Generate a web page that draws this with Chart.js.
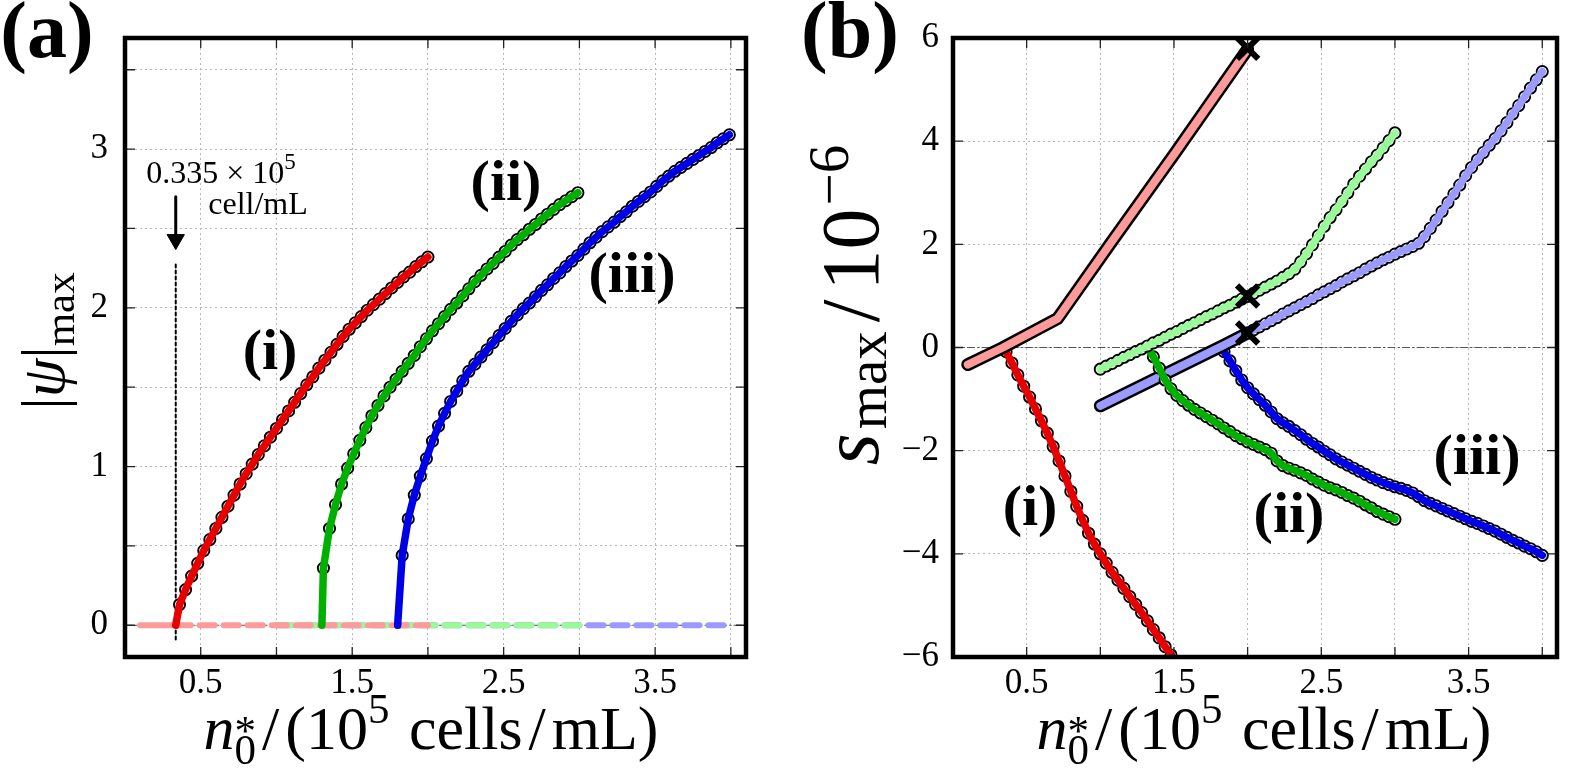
<!DOCTYPE html>
<html>
<head>
<meta charset="utf-8">
<script src="https://cdn.jsdelivr.net/npm/chart.js@4.4.1/dist/chart.umd.min.js"></script>
<style>
  body { margin: 0; background: #fff; width: 1578px; height: 770px; overflow: hidden; position: relative; }
  canvas { position: absolute; top: 0; }
  #chartA { left: 0; }
  #chartB { left: 780px; }
</style>
</head>
<body>
<canvas id="chartA" width="780" height="770"></canvas>
<canvas id="chartB" width="798" height="770"></canvas>
<script>
// ---------- panel (a): |psi|max vs n0* ----------
const aRedX = [0.335, 0.36, 0.40, 0.44, 0.48, 0.52, 0.56, 0.60, 0.64, 0.68, 0.72, 0.76, 0.80, 0.84, 0.88, 0.92, 0.96, 1.00, 1.04, 1.08, 1.12, 1.16, 1.20, 1.24, 1.28, 1.32, 1.36, 1.40, 1.44, 1.48, 1.52, 1.56, 1.60, 1.64, 1.68, 1.72, 1.76, 1.80, 1.84, 1.88, 1.92, 1.96, 2.00];
const aRedY = [0, 0.13, 0.225, 0.31, 0.39, 0.47, 0.54, 0.61, 0.68, 0.75, 0.82, 0.89, 0.955, 1.015, 1.075, 1.13, 1.185, 1.24, 1.295, 1.35, 1.405, 1.46, 1.515, 1.565, 1.62, 1.67, 1.72, 1.77, 1.82, 1.865, 1.905, 1.945, 1.985, 2.02, 2.055, 2.09, 2.125, 2.16, 2.195, 2.225, 2.26, 2.29, 2.32];

const aGreenX = [1.30, 1.31, 1.35, 1.39, 1.43, 1.47, 1.51, 1.55, 1.59, 1.63, 1.67, 1.71, 1.75, 1.79, 1.83, 1.87, 1.91, 1.95, 1.99, 2.03, 2.07, 2.11, 2.15, 2.19, 2.23, 2.27, 2.31, 2.35, 2.39, 2.43, 2.47, 2.51, 2.55, 2.59, 2.63, 2.67, 2.71, 2.75, 2.79, 2.83, 2.87, 2.91, 2.95, 2.99];
const aGreenY = [0, 0.36, 0.61, 0.76, 0.89, 0.99, 1.08, 1.165, 1.245, 1.32, 1.385, 1.445, 1.50, 1.55, 1.60, 1.65, 1.70, 1.755, 1.805, 1.855, 1.90, 1.945, 1.99, 2.03, 2.075, 2.12, 2.165, 2.205, 2.245, 2.28, 2.32, 2.355, 2.395, 2.43, 2.46, 2.495, 2.525, 2.56, 2.59, 2.62, 2.65, 2.675, 2.70, 2.725];

const aBlueX = [1.80, 1.83, 1.87, 1.91, 1.95, 1.99, 2.03, 2.07, 2.11, 2.15, 2.19, 2.23, 2.27, 2.31, 2.35, 2.39, 2.43, 2.47, 2.51, 2.55, 2.59, 2.63, 2.67, 2.71, 2.75, 2.79, 2.83, 2.87, 2.91, 2.95, 2.99, 3.03, 3.07, 3.11, 3.15, 3.19, 3.23, 3.27, 3.31, 3.35, 3.39, 3.43, 3.47, 3.51, 3.55, 3.59, 3.63, 3.67, 3.71, 3.75, 3.79, 3.83, 3.87, 3.91, 3.95, 3.99];
const aBlueY = [0, 0.44, 0.67, 0.82, 0.94, 1.05, 1.16, 1.255, 1.335, 1.41, 1.475, 1.54, 1.60, 1.645, 1.69, 1.735, 1.78, 1.825, 1.87, 1.915, 1.955, 1.995, 2.03, 2.07, 2.11, 2.145, 2.185, 2.22, 2.26, 2.295, 2.33, 2.37, 2.41, 2.445, 2.48, 2.51, 2.54, 2.575, 2.605, 2.64, 2.67, 2.70, 2.73, 2.765, 2.80, 2.83, 2.86, 2.885, 2.91, 2.935, 2.96, 2.985, 3.01, 3.04, 3.065, 3.09];

// trivial (psi = 0) branches drawn dashed at zero
const aFlatStart = [0.335, 1.0, 1.0];
const aFlatEnd = [2.0, 3.0, 4.0];
const aRedSolidStart = 0.1;
const aThreshold = 0.335;

const aXGrid = [0.5, 1.0, 1.5, 2.0, 2.5, 3.0, 3.5, 4.0];
const aXLabels = [0.5, 1.5, 2.5, 3.5];
const aYGrid = [0, 0.5, 1, 1.5, 2, 2.5, 3, 3.5];
const aYLabels = [0, 1, 2, 3];

// ---------- panel (b): s_max vs n0* ----------
const bRedLowX = [0.34, 0.36, 0.40, 0.44, 0.48, 0.52, 0.56, 0.60, 0.64, 0.68, 0.72, 0.76, 0.80, 0.84, 0.88, 0.92, 0.96, 1.00, 1.04, 1.08, 1.12, 1.16, 1.20, 1.24, 1.28, 1.32, 1.36, 1.40, 1.44, 1.48, 1.52];
const bRedLowY = [0, -0.08, -0.30, -0.53, -0.75, -0.96, -1.19, -1.42, -1.66, -1.92, -2.20, -2.49, -2.79, -3.08, -3.35, -3.60, -3.81, -4.00, -4.18, -4.36, -4.51, -4.67, -4.83, -4.98, -5.14, -5.30, -5.47, -5.63, -5.80, -5.96, -6.12];

const bRedUpX = [0.10, 0.34, 0.71, 1.07, 1.51, 2.00];
const bRedUpY = [-0.33, 0.0, 0.56, 2.02, 3.78, 5.78];

const bGreenLowX = [1.32, 1.36, 1.40, 1.44, 1.48, 1.52, 1.56, 1.60, 1.64, 1.68, 1.72, 1.76, 1.80, 1.84, 1.88, 1.92, 1.96, 2.00, 2.04, 2.08, 2.12, 2.16, 2.20, 2.24, 2.28, 2.32, 2.36, 2.40, 2.44, 2.48, 2.52, 2.56, 2.60, 2.64, 2.68, 2.72, 2.76, 2.80, 2.84, 2.88, 2.92, 2.96, 3.00];
const bGreenLowY = [0, -0.18, -0.40, -0.63, -0.80, -0.93, -1.03, -1.12, -1.20, -1.27, -1.34, -1.41, -1.48, -1.56, -1.63, -1.71, -1.77, -1.83, -1.88, -1.93, -1.98, -2.05, -2.20, -2.29, -2.34, -2.38, -2.43, -2.48, -2.55, -2.61, -2.67, -2.72, -2.76, -2.81, -2.87, -2.92, -2.98, -3.05, -3.11, -3.18, -3.23, -3.28, -3.33];

const bGreenUpX = [1.00, 1.04, 1.08, 1.12, 1.16, 1.20, 1.24, 1.28, 1.32, 1.36, 1.40, 1.44, 1.48, 1.52, 1.56, 1.60, 1.64, 1.68, 1.72, 1.76, 1.80, 1.84, 1.88, 1.92, 1.96, 2.00, 2.04, 2.08, 2.12, 2.16, 2.20, 2.24, 2.28, 2.32, 2.36, 2.40, 2.44, 2.48, 2.52, 2.56, 2.60, 2.64, 2.68, 2.72, 2.76, 2.80, 2.84, 2.88, 2.92, 2.96, 3.00];
const bGreenUpY = [-0.42, -0.36, -0.31, -0.25, -0.19, -0.14, -0.08, -0.03, 0.03, 0.09, 0.14, 0.20, 0.26, 0.31, 0.37, 0.43, 0.48, 0.54, 0.60, 0.65, 0.71, 0.77, 0.82, 0.88, 0.94, 0.99, 1.05, 1.11, 1.17, 1.23, 1.29, 1.36, 1.43, 1.52, 1.66, 1.82, 1.99, 2.17, 2.35, 2.52, 2.67, 2.83, 3.00, 3.17, 3.32, 3.46, 3.60, 3.73, 3.87, 4.01, 4.16];

const bBlueLowX = [1.82, 1.84, 1.88, 1.92, 1.96, 2.00, 2.04, 2.08, 2.12, 2.16, 2.20, 2.24, 2.28, 2.32, 2.36, 2.40, 2.44, 2.48, 2.52, 2.56, 2.60, 2.64, 2.68, 2.72, 2.76, 2.80, 2.84, 2.88, 2.92, 2.96, 3.00, 3.04, 3.08, 3.12, 3.16, 3.20, 3.24, 3.28, 3.32, 3.36, 3.40, 3.44, 3.48, 3.52, 3.56, 3.60, 3.64, 3.68, 3.72, 3.76, 3.80, 3.84, 3.88, 3.92, 3.96, 4.00];
const bBlueLowY = [0, -0.08, -0.26, -0.45, -0.63, -0.78, -0.90, -1.01, -1.12, -1.25, -1.38, -1.46, -1.53, -1.61, -1.69, -1.78, -1.86, -1.93, -2.01, -2.08, -2.16, -2.22, -2.28, -2.34, -2.40, -2.46, -2.52, -2.57, -2.62, -2.66, -2.70, -2.73, -2.77, -2.82, -2.89, -2.97, -3.02, -3.07, -3.12, -3.17, -3.22, -3.27, -3.32, -3.37, -3.41, -3.46, -3.51, -3.56, -3.62, -3.68, -3.74, -3.79, -3.85, -3.90, -3.96, -4.03];

const bBlueUpAX = [1.00, 1.40, 1.82, 2.00];
const bBlueUpAY = [-1.13, -0.57, 0.02, 0.28];
const bBlueUpBX = [2.00, 2.04, 2.08, 2.12, 2.16, 2.20, 2.24, 2.28, 2.32, 2.36, 2.40, 2.44, 2.48, 2.52, 2.56, 2.60, 2.64, 2.68, 2.72, 2.76, 2.80, 2.84, 2.88, 2.92, 2.96, 3.00, 3.04, 3.08, 3.12, 3.16, 3.20, 3.24, 3.28, 3.32, 3.36, 3.40, 3.44, 3.48, 3.52, 3.56, 3.60, 3.64, 3.68, 3.72, 3.76, 3.80, 3.84, 3.88, 3.92, 3.96, 4.00];
const bBlueUpBY = [0.28, 0.34, 0.40, 0.46, 0.52, 0.58, 0.65, 0.71, 0.77, 0.83, 0.89, 0.95, 1.02, 1.08, 1.14, 1.20, 1.27, 1.33, 1.39, 1.45, 1.52, 1.58, 1.64, 1.70, 1.75, 1.81, 1.86, 1.91, 1.96, 2.02, 2.15, 2.31, 2.47, 2.64, 2.81, 2.98, 3.15, 3.33, 3.49, 3.64, 3.78, 3.92, 4.05, 4.20, 4.36, 4.53, 4.69, 4.86, 5.03, 5.19, 5.35];

const bCrossX = [2.0, 2.0, 2.0];
const bCrossY = [5.8, 1.0, 0.28];

const bXGrid = [0.5, 1.0, 1.5, 2.0, 2.5, 3.0, 3.5, 4.0];
const bXLabels = [0.5, 1.5, 2.5, 3.5];
const bYGrid = [-6, -4, -2, 0, 2, 4, 6];
const bYLabels = [-6, -4, -2, 0, 2, 4, 6];

// ---------- styling ----------
const SERIF = '"Liberation Serif", "Times New Roman", serif';
const RED = '#e60000', GREEN = '#00b000', BLUE = '#0000e6';
const LRED = '#ff9a9a', LGREEN = '#9afa9a', LBLUE = '#9a9aff';
const LW = 7.5;

const pts = (xs, ys) => xs.map((x, i) => ({ x: x, y: ys[i] }));

function markers(xs, ys, order, skipFirst) {
  return {
    data: pts(xs, ys), showLine: false, order: order,
    pointRadius: c => (skipFirst && c.dataIndex === 0) ? 0 : 5.6,
    pointBackgroundColor: '#fff', pointBorderColor: '#000', pointBorderWidth: 1.9
  };
}
function curve(xs, ys, color, width, order, dash) {
  return {
    data: pts(xs, ys), showLine: true, order: order, borderColor: color, borderWidth: width,
    borderDash: dash || [], borderCapStyle: 'round', borderJoinStyle: 'round',
    pointRadius: 0, tension: 0
  };
}

function axis(min, max, grid, labels, pad, fmt, size, isX) {
  return {
    type: 'linear', min: min, max: max,
    afterBuildTicks: s => { s.ticks = grid.map(v => ({ value: v })); },
    afterFit: s => { if (isX) s.height = size; else s.width = size; },
    ticks: {
      autoSkip: false, maxRotation: 0, padding: pad, color: '#000',
      font: { family: SERIF, size: 35 },
      callback: v => labels.some(l => Math.abs(l - v) < 1e-9) ? fmt(v) : ''
    },
    grid: { color: '#b8b8b8', lineWidth: 1, drawTicks: false },
    border: { display: false, dash: [2, 3] }
  };
}

// rich text: runs of {t, f, dy, over, pl, pr}; x is the centre of the whole line
function drawRuns(ctx, x, y, runs, rot) {
  ctx.save();
  ctx.translate(x, y);
  if (rot) ctx.rotate(rot);
  ctx.textBaseline = 'alphabetic';
  ctx.fillStyle = '#000';
  const ws = [];
  let w = 0, lastW = 0;
  runs.forEach(r => {
    ctx.font = r.f;
    const m = ctx.measureText(r.t).width;
    ws.push(m);
    if (r.over) { w += Math.max(0, m - lastW); } else { w += (r.pl || 0) + m + (r.pr || 0); lastW = m; }
  });
  let cx = -w / 2, px = cx, pw = 0;
  runs.forEach((r, i) => {
    ctx.font = r.f;
    if (r.over) {
      ctx.fillText(r.t, px, r.dy || 0);
      cx = px + Math.max(pw, ws[i]);
    } else {
      cx += r.pl || 0;
      ctx.fillText(r.t, cx, r.dy || 0);
      px = cx; pw = ws[i]; cx += ws[i] + (r.pr || 0);
    }
  });
  ctx.restore();
}

// frame, inward ticks and text annotations
function decorPlugin(xGrid, yGrid, texts) {
  return {
    id: 'decor',
    afterDatasetsDraw(chart) {
      const { ctx, chartArea: a, scales } = chart;
      ctx.save();
      ctx.strokeStyle = '#222';
      ctx.lineWidth = 1.3;
      ctx.beginPath();
      xGrid.forEach(v => {
        const px = scales.x.getPixelForValue(v);
        ctx.moveTo(px, a.bottom); ctx.lineTo(px, a.bottom - 10);
        ctx.moveTo(px, a.top); ctx.lineTo(px, a.top + 10);
      });
      yGrid.forEach(v => {
        const py = scales.y.getPixelForValue(v);
        ctx.moveTo(a.left, py); ctx.lineTo(a.left + 10, py);
        ctx.moveTo(a.right, py); ctx.lineTo(a.right - 10, py);
      });
      ctx.stroke();
      ctx.strokeStyle = '#000';
      ctx.lineWidth = 4.5;
      ctx.lineJoin = 'miter';
      ctx.strokeRect(a.left, a.top, a.right - a.left, a.bottom - a.top);
      ctx.restore();
    },
    afterDraw(chart) {
      texts.forEach(t => drawRuns(chart.ctx, t.x, t.y, t.runs, t.rot));
    }
  };
}

const F = `62px ${SERIF}`, FI = `italic 62px ${SERIF}`, FS = `43px ${SERIF}`;
const F2 = `82px ${SERIF}`, F2I = `italic 82px ${SERIF}`, F2S = `57px ${SERIF}`;
const FB = `bold 58px ${SERIF}`, FL = `bold 80px ${SERIF}`;
const xTitle = [
  { t: 'n', f: FI }, { t: '0', f: FS, dy: 15 }, { t: '*', f: FS, dy: -4, over: true },
  { t: '/', f: F, pl: 6, pr: 6 }, { t: '(10', f: F }, { t: '5', f: FS, dy: -26 },
  { t: ' cells', f: F, pl: 4 }, { t: '/', f: F, pl: 6, pr: 6 }, { t: 'mL)', f: F }
];

Chart.defaults.animation = false;
Chart.defaults.plugins.legend.display = false;
Chart.defaults.plugins.tooltip.enabled = false;

// ---------- chart (a) ----------
const aFlatColors = [LRED, LGREEN, LBLUE];
const aDatasets = [
  curve([0, 4.1], [0, 0], '#555', 1, 100, [7, 3, 1.5, 3]),
  curve([aFlatStart[2], aFlatEnd[2]], [0, 0], aFlatColors[2], 6, 92, [15, 9]),
  curve([aFlatStart[1], aFlatEnd[1]], [0, 0], aFlatColors[1], 6, 91, [15, 9]),
  curve([aFlatStart[0], aFlatEnd[0]], [0, 0], aFlatColors[0], 6, 90, [15, 9]),
  curve([aRedSolidStart, aThreshold], [0, 0], LRED, 6, 90),
  curve([aThreshold, aThreshold], [-0.09, 2.28], '#000', 2, 80, [3, 3]),
  Object.assign(curve([aThreshold, aThreshold], [2.70, 2.43], '#000', 3, 80), {
    borderCapStyle: 'butt',
    pointRadius: [0, 10], pointStyle: 'triangle', pointRotation: 180,
    pointBackgroundColor: '#000', pointBorderColor: '#000', pointBorderWidth: 1
  }),
  markers(aRedX, aRedY, 71, true), curve(aRedX, aRedY, RED, LW, 70),
  markers(aGreenX, aGreenY, 61, true), curve(aGreenX, aGreenY, GREEN, LW, 60),
  markers(aBlueX, aBlueY, 51, true), curve(aBlueX, aBlueY, BLUE, LW, 50)
];

new Chart(document.getElementById('chartA'), {
  type: 'scatter',
  data: { datasets: aDatasets },
  options: {
    responsive: false,
    layout: { padding: { left: 0, top: 37, right: 34, bottom: 0 } },
    scales: {
      x: axis(0, 4.1, aXGrid, aXLabels, 6, v => String(v), 113, true),
      y: axis(-0.2, 3.7, aYGrid, aYLabels, 17, v => String(v), 125, false)
    }
  },
  plugins: [decorPlugin(aXGrid, aYGrid, [
    { x: 47, y: 57, runs: [{ t: '(a)', f: FL }] },
    { x: 431, y: 749, runs: xTitle },
    { x: 64, y: 341, rot: -Math.PI / 2, runs: [
      { t: '|', f: F }, { t: 'ψ', f: FI }, { t: '|', f: F }, { t: 'max', f: FS, dy: 10 }
    ] },
    { x: 221, y: 183, runs: [{ t: '0.335 × 10', f: `32px ${SERIF}` }, { t: '5', f: `23px ${SERIF}`, dy: -14 }] },
    { x: 258, y: 214, runs: [{ t: 'cell/mL', f: `32px ${SERIF}` }] },
    { x: 270, y: 369, runs: [{ t: '(i)', f: FB }] },
    { x: 506, y: 200, runs: [{ t: '(ii)', f: FB }] },
    { x: 632, y: 292, runs: [{ t: '(iii)', f: FB }] }
  ])]
});

// ---------- chart (b) ----------
const bDatasets = [
  curve([0, 4.1], [0, 0], '#555', 1, 100, [7, 3, 1.5, 3]),
  markers(bRedLowX, bRedLowY, 91, true), curve(bRedLowX, bRedLowY, RED, LW, 90),
  curve(bRedUpX, bRedUpY, '#000', 13, 81), curve(bRedUpX, bRedUpY, LRED, 8, 80),
  markers(bBlueLowX, bBlueLowY, 71, true), curve(bBlueLowX, bBlueLowY, BLUE, LW, 70),
  curve(bBlueUpAX, bBlueUpAY, '#000', 13, 63), curve(bBlueUpAX, bBlueUpAY, LBLUE, 8, 62),
  markers(bBlueUpBX, bBlueUpBY, 61, false), curve(bBlueUpBX, bBlueUpBY, LBLUE, LW, 60),
  markers(bGreenLowX, bGreenLowY, 51, true), curve(bGreenLowX, bGreenLowY, GREEN, LW, 50),
  markers(bGreenUpX, bGreenUpY, 41, false), curve(bGreenUpX, bGreenUpY, LGREEN, LW, 40),
  {
    data: pts(bCrossX, bCrossY), showLine: false, order: 0,
    pointStyle: 'crossRot', pointRadius: 15, pointBorderColor: '#000', pointBorderWidth: 6
  }
];

new Chart(document.getElementById('chartB'), {
  type: 'scatter',
  data: { datasets: bDatasets },
  options: {
    responsive: false,
    layout: { padding: { left: 0, top: 38, right: 7, bottom: 0 } },
    scales: {
      x: axis(0, 4.1, bXGrid, bXLabels, 6, v => String(v), 113, true),
      y: axis(-6, 6, bYGrid, bYLabels, 14, v => v < 0 ? '\u2212' + Math.abs(v) : String(v), 173, false)
    }
  },
  plugins: [decorPlugin(bXGrid, bYGrid, [
    { x: 70, y: 57, runs: [{ t: '(b)', f: FL }] },
    { x: 1264 - 780, y: 749, runs: xTitle },
    { x: 98, y: 305, rot: -Math.PI / 2, runs: [
      { t: 's', f: F2I, pr: 4 }, { t: 'max', f: F2S, dy: 8 }, { t: '/', f: F2, pl: 9, pr: 9 },
      { t: '10', f: F2 }, { t: '\u22126', f: F2S, dy: -30, pl: 3 }
    ] },
    { x: 1030 - 780, y: 525, runs: [{ t: '(i)', f: FB }] },
    { x: 1289 - 780, y: 532, runs: [{ t: '(ii)', f: FB }] },
    { x: 1477 - 780, y: 474, runs: [{ t: '(iii)', f: FB }] }
  ])]
});
</script>
</body>
</html>
